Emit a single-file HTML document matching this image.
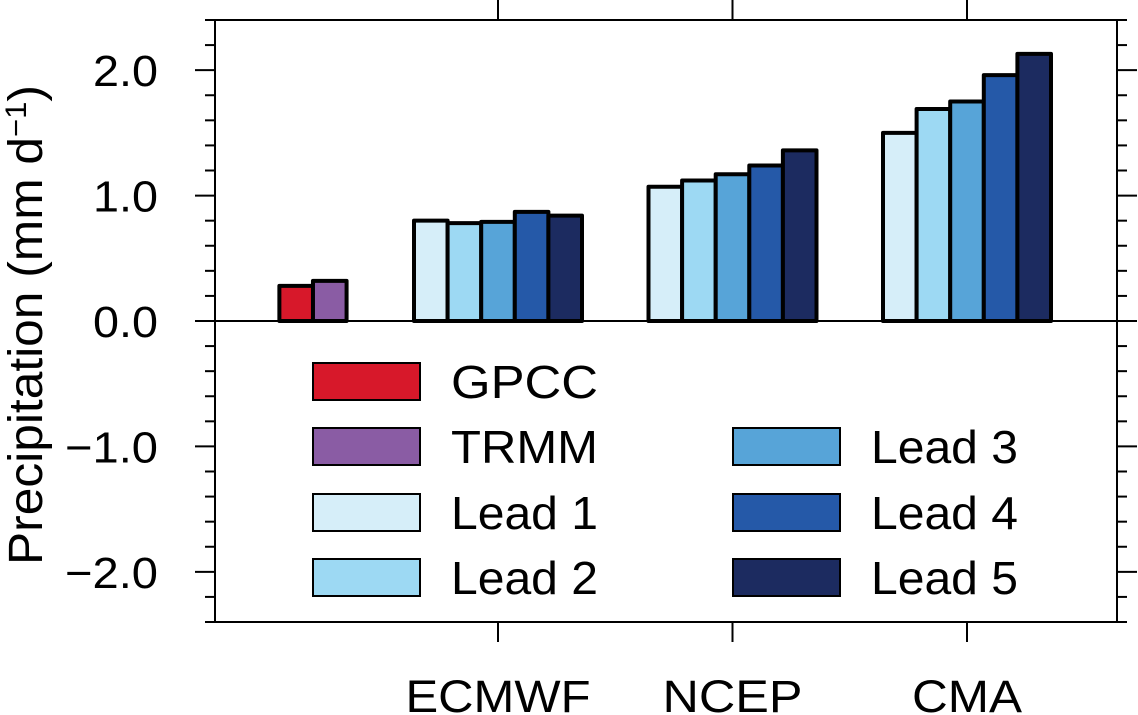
<!DOCTYPE html>
<html><head><meta charset="utf-8"><style>
html,body{margin:0;padding:0;background:#fff;}
svg{display:block;font-family:"Liberation Sans",Arial,sans-serif;}
</style></head><body>
<svg id="chart" width="1138" height="715" viewBox="0 0 1138 715" xmlns="http://www.w3.org/2000/svg"></svg>
<script>
const groups = ["Obs","ECMWF","NCEP","CMA"];
const groupPos = [0.211, 1, 2, 3];
const obsNames = ["GPCC","TRMM"];
const obsValues = [0.28, 0.32];
const leadNames = ["Lead 1","Lead 2","Lead 3","Lead 4","Lead 5"];
const ecmwfValues = [0.80, 0.78, 0.79, 0.87, 0.84];
const ncepValues = [1.07, 1.12, 1.17, 1.24, 1.36];
const cmaValues = [1.50, 1.69, 1.75, 1.96, 2.13];
const yTicks = [-2.0, -1.0, 0.0, 1.0, 2.0];
const yTickLabels = ["\u22122.0","\u22121.0","0.0","1.0","2.0"];

const svg = document.getElementById('chart');
const NS = "http://www.w3.org/2000/svg";
const L = 215, R = 1117, T = 20, B = 622, yMin = -2.4, yMax = 2.4;
const y = v => B - (v - yMin) / (yMax - yMin) * (B - T);
const x = p => 498 + (p - 1) * 234.5;
const barW = 33.6;
const obsColors = ["#d7182a", "#8a5ca4"];
const leadColors = ["#d6eef9", "#9dd9f3", "#57a4d8", "#2559a8", "#1c2b60"];
const xLabelW = [0, 185, 140, 110];

function el(tag, attrs, parent) {
  const e = document.createElementNS(NS, tag);
  for (const k in attrs) e.setAttribute(k, attrs[k]);
  (parent || svg).appendChild(e);
  return e;
}

const frame = el('rect', {x:L, y:T, width:R-L, height:B-T, fill:'none', stroke:'#000', 'stroke-width':2});



for (let i = -12; i <= 12; i++) {
  const v = i * 0.2, yy = y(v), major = i % 5 === 0;
  const len = major ? 20 : 10;
  const t1 = el('line', {x1:L-len, x2:L, y1:yy, y2:yy, stroke:'#000', 'stroke-width':2});
  
  
  const t2 = el('line', {x1:R, x2:R+len, y1:yy, y2:yy, stroke:'#000', 'stroke-width':2});
  
  
}
yTicks.forEach((v, i) => {
  const w = v < 0 ? 93 : 65;
  const t = el('text', {x:158 - w, y:y(v)+16, 'font-size':44, textLength:w, lengthAdjust:'spacingAndGlyphs'});
  t.textContent = yTickLabels[i];
  
  
});

const z = el('line', {x1:L, x2:R, y1:y(0), y2:y(0), stroke:'#000', 'stroke-width':2});



for (let g = 1; g < groups.length; g++) {
  const xx = x(groupPos[g]);
  const a = el('line', {x1:xx, x2:xx, y1:0, y2:T, stroke:'#000', 'stroke-width':2});
  
  
  const b = el('line', {x1:xx, x2:xx, y1:B, y2:B+20, stroke:'#000', 'stroke-width':2});
  
  
  const t = el('text', {x:xx - xLabelW[g]/2, y:712, 'font-size':45, textLength:xLabelW[g], lengthAdjust:'spacingAndGlyphs'});
  t.textContent = groups[g];
  
  
}

function drawBars(vals, colors, center, names) {
  const n = vals.length, start = x(center) - n * barW / 2;
  vals.forEach((v, i) => {
    const top = y(Math.max(v, 0)), h = Math.abs(y(v) - y(0));
    const r = el('rect', {x:start + i*barW, y:top, width:barW, height:h, fill:colors[i], stroke:'#000', 'stroke-width':4, 'stroke-linejoin':'round'});
    
    
  });
}
drawBars(obsValues, obsColors, groupPos[0], obsNames);
drawBars(ecmwfValues, leadColors, groupPos[1], leadNames);
drawBars(ncepValues, leadColors, groupPos[2], leadNames);
drawBars(cmaValues, leadColors, groupPos[3], leadNames);

const legendItems = [
  [obsNames[0], obsColors[0], 313, 363], [obsNames[1], obsColors[1], 313, 428],
  [leadNames[0], leadColors[0], 313, 494], [leadNames[1], leadColors[1], 313, 559],
  [leadNames[2], leadColors[2], 733, 428], [leadNames[3], leadColors[3], 733, 494],
  [leadNames[4], leadColors[4], 733, 559]
];
legendItems.forEach(it => {
  const r = el('rect', {x:it[2], y:it[3], width:107, height:37, fill:it[1], stroke:'#000', 'stroke-width':2});
  
  
  const t = el('text', {x:it[2]+138, y:it[3]+35, 'font-size':46, textLength:147, lengthAdjust:'spacingAndGlyphs'});
  t.textContent = it[0];
  
  
});

const yt = el('text', {x:-240, y:0, 'font-size':48, textLength:480, lengthAdjust:'spacingAndGlyphs', transform:'translate(42,325) rotate(-90)'});
yt.innerHTML = 'Precipitation (mm d<tspan baseline-shift="super" font-size="30">\u22121</tspan>)';


</script>
</body></html>
